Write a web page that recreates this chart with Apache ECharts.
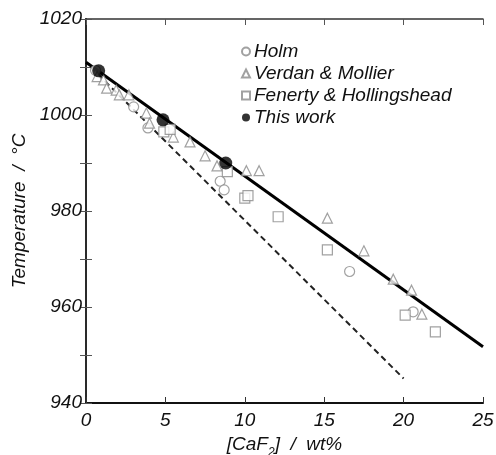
<!DOCTYPE html>
<html><head><meta charset="utf-8">
<script src="https://cdn.jsdelivr.net/npm/echarts@6/dist/echarts.min.js"></script>
<style>html,body{margin:0;padding:0;background:#fff}#c{width:496px;height:455px}</style>
</head><body><div id="c"></div>
<script>
const holmX = [0.6, 3.0, 3.9, 8.45, 8.7, 16.6, 20.6];
const holmT = [1009.3, 1001.7, 997.3, 986.2, 984.4, 967.4, 959.0];
const verdanX = [0.7, 1.1, 1.3, 1.9, 2.1, 2.7, 3.8, 4.0, 5.5, 6.55, 7.5, 8.25, 10.1, 10.9, 15.2, 17.5, 19.35, 20.5, 21.15];
const verdanT = [1008.0, 1007.3, 1005.6, 1005.2, 1004.2, 1004.2, 1000.4, 998.3, 995.4, 994.4, 991.5, 989.4, 988.4, 988.4, 978.5, 971.7, 965.8, 963.5, 958.5];
const fenX = [4.9, 5.3, 8.9, 10.0, 10.2, 12.1, 15.2, 20.1, 22.0];
const fenT = [996.5, 997.0, 988.2, 982.7, 983.2, 978.8, 971.9, 958.3, 954.8];
const thisX = [0.8, 4.85, 8.8];
const thisT = [1009.2, 999.0, 990.0];
const fitX = [0, 25];
const fitT = [1011.0, 951.7];
const dashX = [0.3, 20];
const dashT = [1010.0, 945.1];
const xTicks = [0, 5, 10, 15, 20, 25];
const yTicks = [940, 960, 980, 1000, 1020];

const zip = (a, b) => a.map((v, i) => [v, b[i]]);
const FONT = '"Liberation Sans", Arial, sans-serif';
const FS = 19;
const chart = echarts.init(document.getElementById('c'));
const grey = '#8a8a8a';
const hollow = (sym, size) => ({
  type: 'scatter', symbol: sym, symbolSize: size, xAxisIndex: 0, yAxisIndex: 0,
  itemStyle: { color: '#fff', borderColor: grey, borderWidth: 1.2 }, z: 3
});
chart.setOption({
  animation: false,
  backgroundColor: '#fff',
  grid: { left: 86, right: 13, top: 19, bottom: 52, containLabel: false, outerBoundsMode: 'none' },
  legend: {
    orient: 'vertical', left: 236, top: 37, itemGap: 3, itemWidth: 8, itemHeight: 8,
    textStyle: { fontFamily: FONT, fontStyle: 'italic', fontSize: FS, color: '#111', padding: [0, 0, 0, -1] },
    data: ['Holm', 'Verdan & Mollier', 'Fenerty & Hollingshead', 'This work']
  },
  xAxis: [{
    type: 'value', min: 0, max: 25, interval: 5,
    name: '{a|[CaF}{s|2}{a|]  /  wt%}', nameLocation: 'middle', nameGap: 26,
    nameTextStyle: { rich: {
      a: { fontFamily: FONT, fontStyle: 'italic', fontSize: FS, color: '#111', lineHeight: 20 },
      s: { fontFamily: FONT, fontStyle: 'italic', fontSize: 12, color: '#111', lineHeight: 12, verticalAlign: 'bottom', padding: [0, 0, -4, 0] }
    } },
    axisLine: { lineStyle: { color: '#111', width: 2 } },
    axisTick: { inside: true, length: 6, lineStyle: { color: '#333', width: 1 } },
    axisLabel: { fontFamily: FONT, fontStyle: 'italic', fontSize: FS, color: '#111', margin: 8,
      formatter: v => xTicks.includes(v) ? String(v) : '' },
    splitLine: { show: false }
  }, {
    type: 'value', min: 0, max: 25, interval: 5, position: 'top',
    axisLine: { lineStyle: { color: '#333', width: 1.5 } },
    axisTick: { inside: true, length: 6, lineStyle: { color: '#555', width: 1 } },
    axisLabel: { show: false }, splitLine: { show: false }
  }],
  yAxis: [{
    type: 'value', min: 940, max: 1020, interval: 10,
    name: 'Temperature  /  °C', nameLocation: 'middle', nameGap: 48, nameRotate: 90,
    nameTextStyle: { fontFamily: FONT, fontStyle: 'italic', fontSize: FS, color: '#111' },
    axisLine: { lineStyle: { color: '#111', width: 2 } },
    axisTick: { inside: true, length: 6, lineStyle: { color: '#555', width: 1 } },
    axisLabel: { fontFamily: FONT, fontStyle: 'italic', fontSize: FS, color: '#111', margin: 4,
      formatter: v => yTicks.includes(v) ? String(v) : '' },
    splitLine: { show: false }
  }, {
    type: 'value', min: 940, max: 1020, interval: 10, position: 'right',
    axisLine: { lineStyle: { color: '#333', width: 1.5 } },
    axisTick: { inside: true, length: 6, lineStyle: { color: '#555', width: 1 } },
    axisLabel: { show: false }, splitLine: { show: false }
  }],
  series: [
    { type: 'line', data: zip(fitX, fitT), symbol: 'none', lineStyle: { color: '#000', width: 3 }, z: 2, silent: true },
    { type: 'line', data: zip(dashX, dashT), symbol: 'none', lineStyle: { color: '#222', width: 2, type: [6, 4] }, z: 2, silent: true },
    Object.assign(hollow('circle', 10), { name: 'Holm', data: zip(holmX, holmT) }),
    Object.assign(hollow('triangle', 10), { name: 'Verdan & Mollier', data: zip(verdanX, verdanT) }),
    Object.assign(hollow('rect', 10), { name: 'Fenerty & Hollingshead', data: zip(fenX, fenT) }),
    { type: 'scatter', name: 'This work', symbol: 'circle', symbolSize: 13, data: zip(thisX, thisT),
      itemStyle: { color: '#000' }, z: 4 }
  ]
});
</script></body></html>
